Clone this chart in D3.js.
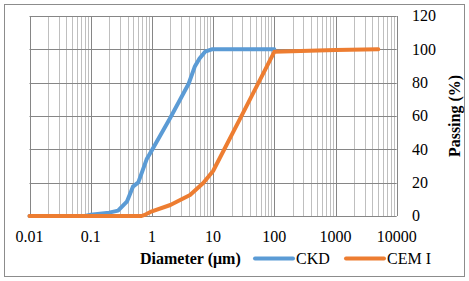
<!DOCTYPE html>
<html>
<head>
<meta charset="utf-8">
<style>
body { margin: 0; background: #fff; }
svg { display: block; font-family: "Liberation Serif", "Times New Roman", serif; }
</style>
</head>
<body>
<svg id="chart" width="469" height="281"></svg>
<script src="https://cdn.jsdelivr.net/npm/d3@7/dist/d3.min.js"></script>
<script>

// particle size distributions (diameter in um, % passing)
var ckdDiam = [0.01, 0.08, 0.1, 0.2, 0.28, 0.39, 0.49, 0.6, 0.82, 1, 2, 4, 5, 6, 7.4, 9.5, 100];
var ckdPass = [0, 0, 0.7, 2, 3.2, 8.6, 17.6, 20.2, 34, 39.5, 59, 79.5, 89.5, 94.5, 98.6, 100, 100];

var cemDiam = [0.01, 0.68, 0.8, 1, 2, 4.2, 6.9, 10, 30, 100, 1000, 5000];
var cemPass = [0, 0, 1, 2.8, 6.6, 12.6, 19.8, 27, 61, 98.5, 99.6, 100];

var seriesNames = ["CKD", "CEM I"];
var seriesColors = ["#5b9bd5", "#ed7d31"];

var xTicks = [0.01, 0.1, 1, 10, 100, 1000, 10000];
var yTicks = [0, 20, 40, 60, 80, 100, 120];

var svg = d3.select("#chart");

// outer frame
svg.append("rect")
	.attr("x", 4.5).attr("y", 4.5)
	.attr("width", 460).attr("height", 272)
	.attr("fill", "#fff")
	.attr("stroke", "#8c8c8c")
	.attr("stroke-width", 1);

var pLeft = 29.5, pRight = 396.7, pTop = 16, pBottom = 216;

var x = d3.scaleLog().domain([0.01, 10000]).range([pLeft, pRight]);
var y = d3.scaleLinear().domain([0, 120]).range([pBottom, pTop]);

var grid = svg.append("g");

// minor log gridlines
var minor = [];
xTicks.slice(0, -1).forEach(function(t) {
	for (var k = 2; k <= 9; k++) minor.push(t * k);
});
grid.selectAll("line.minor")
	.data(minor)
	.enter().append("line")
	.attr("class", "minor")
	.attr("x1", function(d) { return Math.round(x(d)) + 0.5; })
	.attr("x2", function(d) { return Math.round(x(d)) + 0.5; })
	.attr("y1", pTop).attr("y2", pBottom)
	.attr("stroke", "#bfbfbf");

grid.selectAll("line.hmaj")
	.data(yTicks)
	.enter().append("line")
	.attr("class", "hmaj")
	.attr("x1", pLeft).attr("x2", pRight)
	.attr("y1", function(d) { return Math.round(y(d)) + 0.5; })
	.attr("y2", function(d) { return Math.round(y(d)) + 0.5; })
	.attr("stroke", "#868686");

grid.selectAll("line.vmaj")
	.data(xTicks)
	.enter().append("line")
	.attr("class", "vmaj")
	.attr("x1", function(d) { return Math.round(x(d)) + 0.5; })
	.attr("x2", function(d) { return Math.round(x(d)) + 0.5; })
	.attr("y1", pTop).attr("y2", pBottom)
	.attr("stroke", "#868686");

// tick labels
svg.append("g")
	.attr("font-size", 16)
	.attr("text-anchor", "middle")
	.selectAll("text")
	.data(xTicks)
	.enter().append("text")
	.attr("x", function(d) { return x(d); })
	.attr("y", 241.5)
	.text(function(d) { return d; });

svg.append("g")
	.attr("font-size", 16)
	.selectAll("text")
	.data(yTicks)
	.enter().append("text")
	.attr("x", 412)
	.attr("y", function(d) { return y(d); })
	.attr("dy", "0.34em")
	.text(function(d) { return d; });

// axis titles
svg.append("text")
	.attr("x", 140).attr("y", 263.5)
	.attr("font-size", 16).attr("font-weight", "bold")
	.text("Diameter (μm)");

svg.append("text")
	.attr("transform", "translate(460,116) rotate(-90)")
	.attr("text-anchor", "middle")
	.attr("font-size", 16).attr("font-weight", "bold")
	.text("Passing (%)");

// curves
var line = d3.line()
	.x(function(d) { return x(d[0]); })
	.y(function(d) { return y(d[1]); });

var series = [d3.zip(ckdDiam, ckdPass), d3.zip(cemDiam, cemPass)];

svg.append("g")
	.selectAll("path")
	.data(series)
	.enter().append("path")
	.attr("d", line)
	.attr("fill", "none")
	.attr("stroke", function(d, i) { return seriesColors[i]; })
	.attr("stroke-width", 4)
	.attr("stroke-linejoin", "round")
	.attr("stroke-linecap", "round");

// legend
var legend = svg.append("g")
	.selectAll("g")
	.data(seriesNames)
	.enter().append("g")
	.attr("transform", function(d, i) { return "translate(" + (i === 0 ? 255 : 346) + ",258.5)"; });

legend.append("line")
	.attr("x1", 0).attr("x2", 38)
	.attr("stroke", function(d, i) { return seriesColors[i]; })
	.attr("stroke-width", 4)
	.attr("stroke-linecap", "round");

legend.append("text")
	.attr("x", 41)
	.attr("y", 5)
	.attr("font-size", 16)
	.text(function(d) { return d; });

</script>
</body>
</html>
